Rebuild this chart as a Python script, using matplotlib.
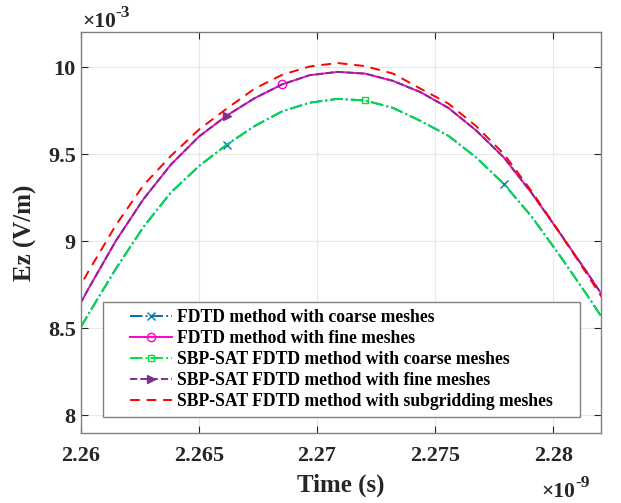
import matplotlib
matplotlib.use('Agg')
import matplotlib.pyplot as plt
from matplotlib.lines import Line2D
from matplotlib.legend_handler import HandlerLine2D

# time samples (x 1e-9 s) and Ez values (x 1e-3 V/m)
time_ns = [2.25913, 2.26030, 2.26148, 2.26265, 2.26382, 2.26500, 2.26617,
           2.26735, 2.26852, 2.26969, 2.27087, 2.27204, 2.27322, 2.27439,
           2.27556, 2.27674, 2.27791, 2.27909, 2.28026, 2.28143, 2.28261]

fdtd_coarse = [8.30, 8.575, 8.84, 9.08, 9.28, 9.43, 9.553, 9.66, 9.745, 9.795,
               9.817, 9.808, 9.765, 9.69, 9.605, 9.48, 9.328, 9.14, 8.92, 8.69, 8.45]
fdtd_fine = [8.43, 8.72, 9.00, 9.24, 9.44, 9.60, 9.72, 9.82, 9.90, 9.953,
             9.972, 9.962, 9.92, 9.855, 9.765, 9.635, 9.48, 9.275, 9.05, 8.82, 8.58]
sbp_coarse = list(fdtd_coarse)
sbp_fine = list(fdtd_fine)
sbp_sub = [8.53, 8.82, 9.09, 9.32, 9.49, 9.64, 9.76, 9.875, 9.955, 10.003,
           10.023, 10.005, 9.962, 9.875, 9.79, 9.66, 9.50, 9.285, 9.05, 8.81, 8.56]

labels = ['FDTD method with coarse meshes',
          'FDTD method with fine meshes',
          'SBP-SAT FDTD method with coarse meshes',
          'SBP-SAT FDTD method with fine meshes',
          'SBP-SAT FDTD method with subgridding meshes']

xticks = [2.26, 2.265, 2.27, 2.275, 2.28]
xticklabels = ['2.26', '2.265', '2.27', '2.275', '2.28']
yticks = [8, 8.5, 9, 9.5, 10]
yticklabels = ['8', '8.5', '9', '9.5', '10']

plt.rcParams['font.family'] = ['Liberation Serif', 'DejaVu Serif']
plt.rcParams['font.weight'] = 'bold'

fig = plt.figure(figsize=(6.21, 5.03), dpi=100)
ax = fig.add_axes([0.13, 0.14, 0.837, 0.796])

lw = 1.4
ax.plot(time_ns, fdtd_coarse, color='#0072BD', ls='-.', lw=lw, marker='x', ms=6,
        markevery=[6, 16], label=labels[0])
ax.plot(time_ns, fdtd_fine, color='#FF00CC', ls='-', lw=lw, marker='o', ms=6,
        mfc='none', markevery=[8], label=labels[1])
ax.plot(time_ns, sbp_coarse, color='#00DD44', ls='-.', lw=lw, marker='s', ms=5,
        mfc='none', markevery=[11], label=labels[2])
ax.plot(time_ns, sbp_fine, color='#7E2F8E', ls='--', lw=lw, marker='>', ms=6,
        markevery=[6], label=labels[3])
ax.plot(time_ns, sbp_sub, color='#FF0000', ls='--', lw=lw, dashes=(5, 3.5),
        label=labels[4])

ax.set_xlim(2.26, 2.282)
ax.set_ylim(7.9, 10.2)
ax.set_xticks(xticks)
ax.set_xticklabels(xticklabels)
ax.set_yticks(yticks)
ax.set_yticklabels(yticklabels)
ax.tick_params(direction='in', top=True, right=True, labelsize=16,
               colors='#262626', length=5)
ax.tick_params(axis='x', pad=10)
ax.grid(True, color='#e8e8e8', lw=0.8)
for s in ax.spines.values():
    s.set_color('#808080')
    s.set_linewidth(1.0)

ax.set_xlabel('Time (s)', fontsize=18, fontweight='bold', color='#262626', labelpad=5)
ax.set_ylabel('Ez (V/m)', fontsize=18, fontweight='bold', color='#262626', labelpad=8)

# exponent labels, MATLAB style
for xx, yy, ex in [(0.132, 0.947, '-3'), (0.872, 0.012, '-9')]:
    base = fig.text(xx, yy, '\u00d710', fontsize=15.5, fontweight='bold',
                    color='#262626', ha='left', va='baseline')
    ax.annotate(ex, xy=(1.0, 0.55), xycoords=base, fontsize=12.5,
                fontweight='bold', color='#262626', ha='left', va='bottom',
                annotation_clip=False)

leg = ax.legend(loc='lower left', bbox_to_anchor=(0.043, 0.039, 0.917, 0.285),
                mode='expand', fontsize=12.7,
                handlelength=3.5, handletextpad=0.27, borderpad=0.4,
                labelspacing=0.22, fancybox=False, framealpha=1,
                borderaxespad=0,
                handler_map={Line2D: HandlerLine2D(xpad=1.15)})
leg.get_frame().set_edgecolor('#808080')
leg.get_frame().set_linewidth(1.0)
for t in leg.get_texts():
    t.set_fontweight('bold')

fig.savefig('out.png', dpi=100)
